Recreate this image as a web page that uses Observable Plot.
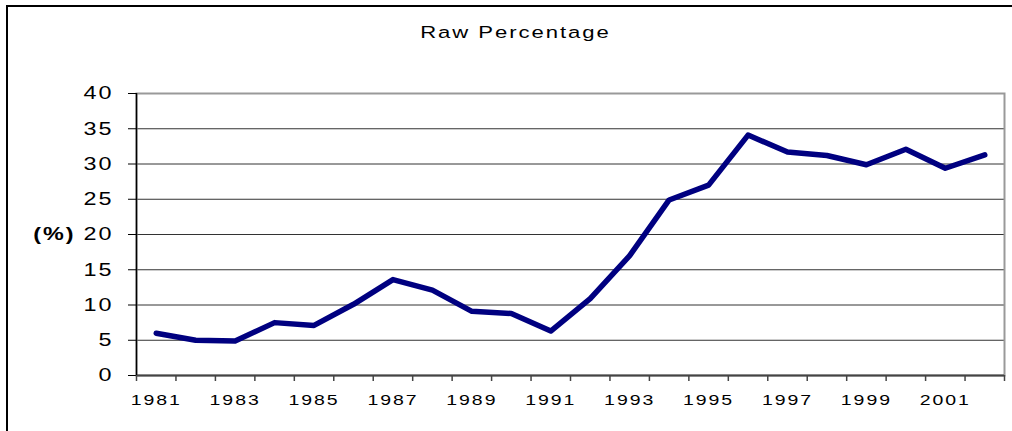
<!DOCTYPE html>
<html><head><meta charset="utf-8">
<script src="https://cdn.jsdelivr.net/npm/d3@7"></script>
<script src="https://cdn.jsdelivr.net/npm/@observablehq/plot@0.6"></script>
<style>
html,body{margin:0;padding:0;background:#fff;overflow:hidden;}
#wrap{position:relative;width:1012px;height:431px;overflow:hidden;background:#fff;}
#box{position:absolute;left:6px;top:5px;width:1100px;height:600px;border:2px solid #000;box-sizing:border-box;pointer-events:none;}
</style></head><body><div id="wrap"></div>
<script>
const title = "Raw Percentage";
const yLabel = "(%)";
const years = [1981,1982,1983,1984,1985,1986,1987,1988,1989,1990,1991,1992,1993,1994,1995,1996,1997,1998,1999,2000,2001,2002];
const values = [6.0,5.0,4.9,7.5,7.1,10.1,13.6,12.1,9.1,8.8,6.3,10.9,17.0,24.9,27.0,34.1,31.7,31.2,29.9,32.1,29.4,31.3];
const yTicks = [0,5,10,15,20,25,30,35,40];
const xTickLabels = [1981,1983,1985,1987,1989,1991,1993,1995,1997,1999,2001];

const data = years.map((year, i) => ({year, value: values[i]}));
const bounds = d3.range(years[0] - 0.5, years[years.length - 1] + 1, 1);

const plot = Plot.plot({
  width: 1012, height: 431,
  marginLeft: 136, marginRight: 8, marginTop: 93, marginBottom: 56,
  style: {fontFamily: "'Liberation Sans', Arial, sans-serif", color: "#000", background: "transparent", overflow: "visible"},
  x: {type: "linear", domain: [bounds[0], bounds[bounds.length - 1]]},
  y: {domain: [yTicks[0], yTicks[yTicks.length - 1]]},
  marks: [
    Plot.ruleY(yTicks.slice(1, -1), {stroke: "#333", strokeWidth: 1}),
    Plot.frame({stroke: "#999", strokeWidth: 2}),
    Plot.ruleY([yTicks[0]], {stroke: "#444", strokeWidth: 2}),
    Plot.ruleX([bounds[0]], {stroke: "#000", strokeWidth: 1.5}),
    Plot.axisY({ticks: yTicks, tickSize: 8, tickPadding: 15, fontSize: 18, label: null, stroke: "#000", tickFormat: d => String(d)}),
    Plot.axisX({ticks: bounds, tickSize: 6, tickFormat: () => "", label: null, stroke: "#444", strokeWidth: 1.5}),
    Plot.axisX({ticks: xTickLabels, tickSize: 0, tickPadding: 19, fontSize: 15, label: null, tickFormat: d => String(d)}),
    Plot.line(data, {x: "year", y: "value", stroke: "#000080", strokeWidth: 5.5, strokeLinejoin: "round", strokeLinecap: "round"}),
    Plot.text([yLabel], {text: d => d, frameAnchor: "left", dx: -61, textAnchor: "end", fontWeight: "bold", fontSize: 18, ariaLabel: "ylabel"}),
    Plot.text([title], {text: d => d, frameAnchor: "top", lineAnchor: "middle", dx: -55, dy: -61, fontSize: 17, ariaLabel: "title"})
  ]
});

plot.querySelectorAll("text").forEach(t => {
  const tr = t.getAttribute("transform");
  t.setAttribute("transform", (tr ? tr + " " : "") + "scale(1.3,1)");
  t.style.letterSpacing = "1.5px";
});
plot.querySelectorAll('g[aria-label="title"] text').forEach(t => { t.style.letterSpacing = "2.4px"; });
plot.querySelectorAll('g[aria-label="ylabel"] text').forEach(t => { t.style.letterSpacing = "1px"; });

const wrap = document.getElementById("wrap");
wrap.appendChild(plot);
const box = document.createElement("div");
box.id = "box";
wrap.appendChild(box);
</script></body></html>
